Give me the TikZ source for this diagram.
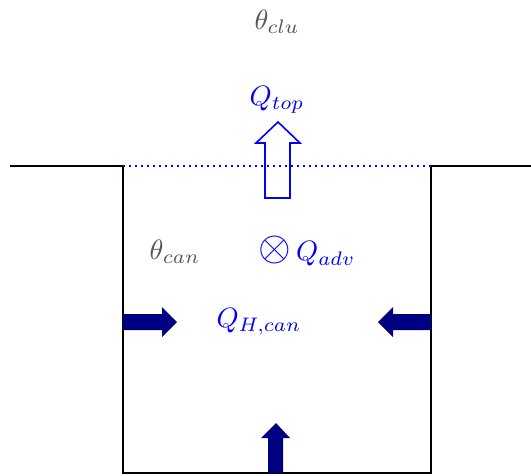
\documentclass[tikz,border=0pt]{standalone}
\definecolor{flux}{RGB}{0,0,255}
\definecolor{heat}{RGB}{0,0,128}
\definecolor{temp}{RGB}{85,85,85}
\newcommand{\biglbl}[1]{\scalebox{2.8}{#1}}
\begin{document}
\begin{tikzpicture}[x=1pt,y=-1pt,
  wall/.style={black,line width=1.4pt},
  lbl/.style={inner sep=0pt},
  heatarrow/.style={fill=heat,draw=none}]
\useasboundingbox (0,0) rectangle (531,475);
% canopy outline
\coordinate (gl) at (10,166);
\coordinate (cl) at (123,166);
\coordinate (bl) at (123,473);
\coordinate (br) at (431,473);
\coordinate (cr) at (431,166);
\coordinate (gr) at (531,166);
\draw[wall] (gl) -- (cl) -- (bl) -- (br) -- (cr) -- (gr);
\draw[flux,line width=1.6pt,dash pattern=on 1.8pt off 4.2pt] (cl) -- (cr);
% labels
\node[lbl,text=temp] (tclu) at (277,22) {\biglbl{$\theta_{clu}$}};
\node[lbl,text=flux] (qtop) at (277,100) {\biglbl{$Q_{top}$}};
\node[lbl,text=temp] (tcan) at (175,252) {\biglbl{$\theta_{can}$}};
\node[lbl,text=flux] (adv) at (275,250) {\scalebox{4.2}{$\otimes$}};
\node[lbl,text=flux,anchor=west] (qadv) at (296,254) {\biglbl{$Q_{adv}$}};
\node[lbl,text=flux] (qh) at (259,322) {\biglbl{$Q_{H,can}$}};
% hollow arrow
\draw[flux,line width=1.6pt] (265,198) -- (265,143) -- (256,143) -- (278,122) -- (300,143) -- (290,143) -- (290,198) -- cycle;
% heat arrows
\fill[heatarrow] (123,314) -- (162,314) -- (162,307) -- (177,322) -- (162,337) -- (162,330) -- (123,330) -- cycle;
\fill[heatarrow] (431,314) -- (393,314) -- (393,307) -- (378,322) -- (393,337) -- (393,330) -- (431,330) -- cycle;
\fill[heatarrow] (268,473) -- (268,438) -- (261,438) -- (276,423) -- (290,438) -- (283,438) -- (283,473) -- cycle;
\end{tikzpicture}
\end{document}
